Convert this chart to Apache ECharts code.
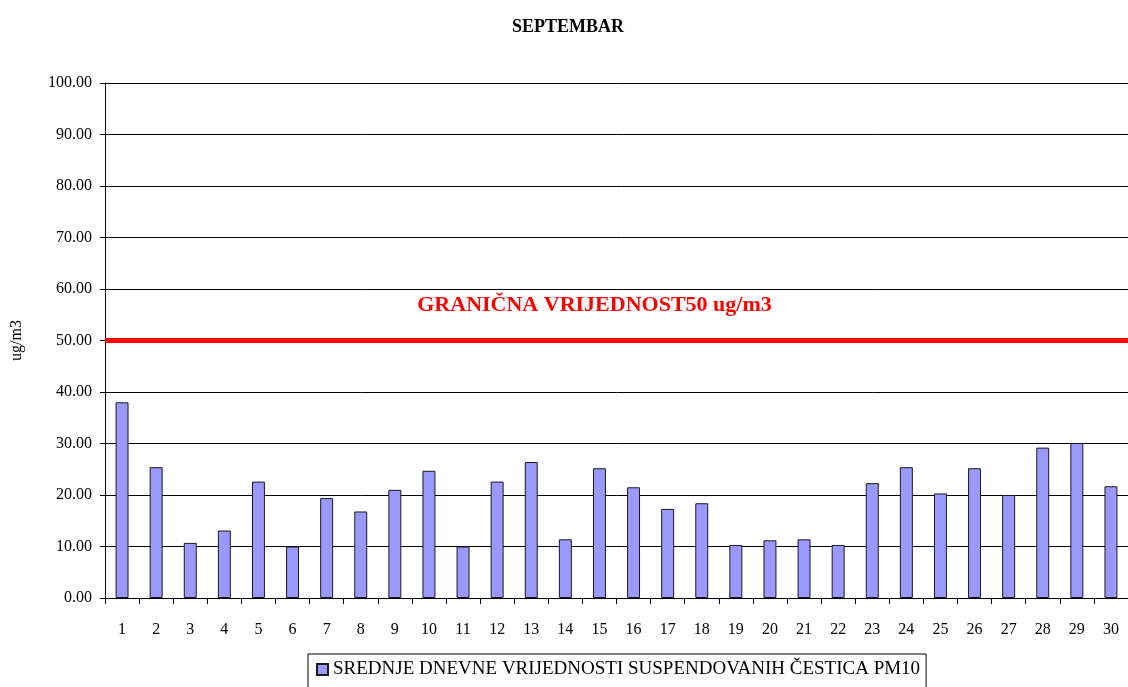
<!DOCTYPE html>
<html>
<head>
<meta charset="utf-8">
<script src="https://cdn.jsdelivr.net/npm/echarts@6/dist/echarts.min.js"></script>
<style>
  html, body { margin: 0; padding: 0; background: #fff; }
  #main { width: 1128px; height: 687px; }
</style>
</head>
<body>
<div id="main"></div>
<script>
// dani u mjesecu
var days = ['1','2','3','4','5','6','7','8','9','10','11','12','13','14','15','16','17','18','19','20','21','22','23','24','25','26','27','28','29','30'];
// srednje dnevne vrijednosti PM10 (ug/m3)
var pm10 = [38.0, 25.4, 10.7, 13.1, 22.6, 10.0, 19.4, 16.8, 21.0, 24.7,
            10.0, 22.6, 26.4, 11.4, 25.2, 21.5, 17.3, 18.4, 10.3, 11.2,
            11.4, 10.3, 22.3, 25.4, 20.3, 25.2, 20.0, 29.2, 30.1, 21.7];
var limitValue = 50;
var seriesName = 'SREDNJE DNEVNE VRIJEDNOSTI SUSPENDOVANIH ČESTICA PM10';
var limitLabel = 'GRANIČNA VRIJEDNOST50 ug/m3';

var serif = '"Liberation Serif", "DejaVu Serif", serif';
var chart = echarts.init(document.getElementById('main'));

var option = {
  backgroundColor: '#ffffff',
  animation: false,
  title: {
    text: 'SEPTEMBAR',
    left: 563, top: 13,
    textAlign: 'center',
    textStyle: { fontFamily: serif, fontSize: 18, fontWeight: 'bold', color: '#000' }
  },
  grid: { left: 105, right: 0, top: 83, bottom: 89 },
  legend: {
    data: [seriesName],
    left: 308,
    top: 654,
    padding: [6, 6, 12, 8],
    borderColor: '#000',
    borderWidth: 1,
    itemWidth: 11,
    itemHeight: 11,
    itemGap: 4,
    icon: 'rect',
    textStyle: { fontFamily: serif, fontSize: 19, color: '#000' }
  },
  xAxis: {
    type: 'category',
    data: days,
    boundaryGap: true,
    axisLine: { lineStyle: { color: '#000', width: 1 } },
    axisTick: { show: true, alignWithLabel: false, length: 6, lineStyle: { color: '#000' } },
    axisLabel: { fontFamily: serif, fontSize: 16, color: '#000', margin: 24, interval: 0 }
  },
  yAxis: {
    type: 'value',
    min: 0, max: 100, interval: 10,
    name: 'ug/m3',
    nameLocation: 'middle',
    nameGap: 80,
    nameRotate: 90,
    nameTextStyle: { fontFamily: serif, fontSize: 16, color: '#000' },
    axisLine: { show: true, lineStyle: { color: '#000' } },
    axisTick: { show: true, length: 5, lineStyle: { color: '#000' } },
    axisLabel: {
      fontFamily: serif, fontSize: 16, color: '#000', margin: 13,
      formatter: function (v) { return v.toFixed(2); }
    },
    splitLine: { show: true, lineStyle: { color: '#000', width: 1 } }
  },
  series: [{
    name: seriesName,
    type: 'bar',
    data: pm10,
    barWidth: '38%',
    itemStyle: { color: '#9999ff', borderColor: '#1a1a1a', borderWidth: 1 },
    markLine: {
      silent: true,
      symbol: 'none',
      data: [{ yAxis: limitValue }],
      lineStyle: { color: '#ff0000', width: 5, type: 'solid' },
      label: {
        show: true,
        position: 'insideMiddleTop',
        distance: 24,
        offset: [-22, 0],
        formatter: limitLabel,
        fontFamily: serif,
        fontSize: 22,
        fontWeight: 'bold',
        color: '#ff0000'
      }
    }
  }]
};

chart.setOption(option);
</script>
</body>
</html>
